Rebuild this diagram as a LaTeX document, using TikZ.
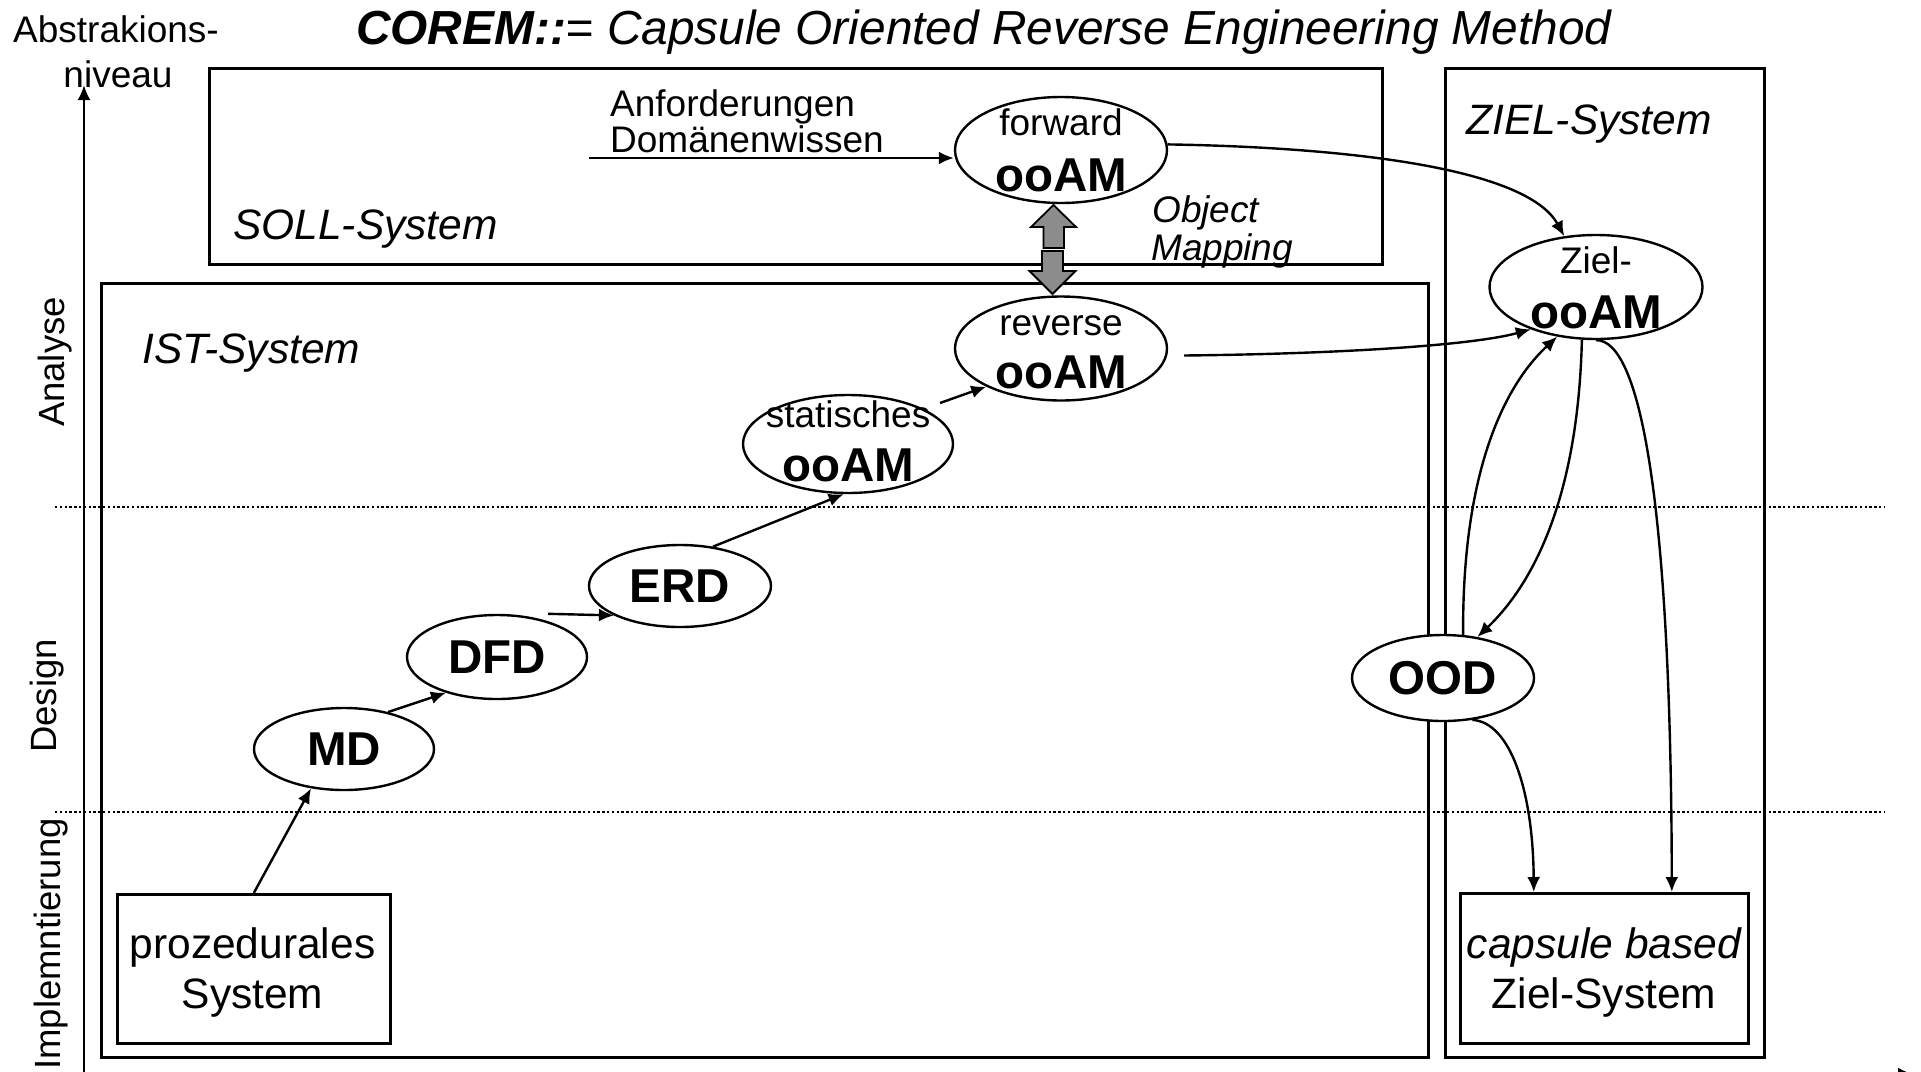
\documentclass[tikz,border=0pt]{standalone}
\usepackage{fontspec}
\setmainfont{Liberation Sans}
\usetikzlibrary{arrows.meta,shapes.geometric}
\begin{document}
\begin{tikzpicture}[x=1pt,y=-1pt,
  box/.style={draw, rectangle, line width=2.6pt, inner sep=0pt},
  ell/.style={draw, ellipse, line width=2.4pt, inner sep=0pt, fill=white},
  arr/.style={line width=2.4pt, -{Latex[length=15pt,width=13pt]}},
  small/.style={font=\fontsize{37}{40}\selectfont, inner sep=0pt},
  axlbl/.style={font=\fontsize{36.5}{40}\selectfont, inner sep=0pt, rotate=90},
  big/.style={font=\fontsize{47.5}{50}\selectfont\bfseries, inner sep=0pt},
  head/.style={font=\fontsize{42.5}{45}\selectfont\itshape, inner sep=0pt},
  boxtxt/.style={font=\fontsize{42.5}{45}\selectfont, inner sep=0pt},
  dotline/.style={line width=2.6pt, dash pattern=on 2.4pt off 2.4pt},
  blockarr/.style={draw, line width=1.8pt, fill=black!45, line join=miter}
]
\path[use as bounding box, clip] (0,0) rectangle (1921,1071);

% level separators
\draw[dotline] (55,507) -- (1884,507);
\draw[dotline] (55,812) -- (1884,812);

% axes
\coordinate (orig) at (84,1074);
\coordinate (ytop) at (84,85);
\coordinate (xend) at (1913,1074);
\draw[arr] (orig) -- (ytop);
\draw[arr] (orig) -- (xend);

% title and axis labels
\node[inner sep=0pt, anchor=base west, font=\fontsize{47.8}{50}\selectfont] (title) at (356,44)
  {{\bfseries\itshape COREM::}{\itshape= Capsule Oriented Reverse Engineering Method}};
\node[small, anchor=base] (abs1) at (116,42) {Abstrakions-};
\node[small, anchor=base] (abs2) at (118,87) {niveau};
\node[axlbl] (analyse) at (55.5,362) {Analyse};
\node[axlbl] (design) at (47.5,696) {Design};
\node[axlbl] (impl) at (51,944) {Implemntierung};

% system boxes
\node[box, anchor=north west, minimum width=1173pt, minimum height=196pt] (soll) at (208,67) {};
\node[box, anchor=north west, minimum width=1327pt, minimum height=774pt] (ist) at (100,282) {};
\node[box, anchor=north west, minimum width=319pt, minimum height=989pt] (ziels) at (1444,67) {};
\node[box, anchor=north west, minimum width=273pt, minimum height=149pt] (proz) at (116,893) {};
\node[box, anchor=north west, minimum width=288pt, minimum height=150pt] (caps) at (1459,892) {};

\node[head, anchor=base west] (sollt) at (233,239) {SOLL-System};
\node[head, anchor=base west] (istt) at (142,363) {IST-System};
\node[head, anchor=base west] (zielt) at (1466,134) {ZIEL-System};

\node[boxtxt, anchor=base] (proz1) at (252.5,958) {prozedurales};
\node[boxtxt, anchor=base] (proz2) at (252.5,1008) {System};
\node[boxtxt, anchor=base] (caps1) at (1604,958) {\itshape capsule based};
\node[boxtxt, anchor=base] (caps2) at (1604,1008) {Ziel-System};

% ellipses
\node[ell, minimum width=212pt, minimum height=106pt] (fwd) at (1061,150) {};
\node[ell, minimum width=212pt, minimum height=104pt] (rev) at (1061,348.5) {};
\node[ell, minimum width=210pt, minimum height=98pt] (stat) at (848,444) {};
\node[ell, minimum width=182pt, minimum height=82pt] (erd) at (680,586) {};
\node[ell, minimum width=180pt, minimum height=84pt] (dfd) at (497,657) {};
\node[ell, minimum width=180pt, minimum height=82pt] (md) at (344,749) {};
\node[ell, minimum width=213pt, minimum height=104pt] (ziel) at (1596,287) {};
\node[ell, minimum width=182pt, minimum height=86pt] (ood) at (1443,678) {};

\node[small, anchor=base] (fwdt) at ([yshift=15pt]fwd.center) {forward};
\node[big, anchor=base] (fwdo) at ([yshift=-41pt]fwd.center) {ooAM};
\node[small, anchor=base] (revt) at ([yshift=13.5pt]rev.center) {reverse};
\node[big, anchor=base] (revo) at ([yshift=-40pt]rev.center) {ooAM};
\node[small, anchor=base] (statt) at ([yshift=17pt]stat.center) {statisches};
\node[big, anchor=base] (stato) at ([yshift=-37pt]stat.center) {ooAM};
\node[small, anchor=base] (zielt1) at ([yshift=14pt]ziel.center) {Ziel-};
\node[big, anchor=base] (zielo) at ([yshift=-41pt]ziel.center) {ooAM};
\node[big] (erdt) at (erd) {ERD};
\node[big] (dfdt) at (dfd) {DFD};
\node[big] (mdt) at (md) {MD};
\node[big] (oodt) at (ood) {OOD};

% inputs
\node[small, anchor=base west] (anf1) at (610,116) {Anforderungen};
\node[small, anchor=base west] (anf2) at (610,152) {Domänenwissen};
\coordinate (anf) at (589,158);
\draw[arr] (anf) -- (anf -| fwd.west);

\node[small, anchor=base west] (om1) at (1152,222) {\itshape Object};
\node[small, anchor=base west] (om2) at (1151,260) {\itshape Mapping};

% object mapping block arrows
\path[blockarr] (1043.5,248) -- (1043.5,227) -- (1031,227) -- (1053.5,205) -- (1076,227) -- (1064,227) -- (1064,248) -- cycle;
\path[blockarr] (1042,251) -- (1063,251) -- (1063,271) -- (1075.5,271) -- (1052.5,294) -- (1029.5,271) -- (1042,271) -- cycle;

% reverse engineering chain
\draw[arr] (proz.north) -- (md.230);
\draw[arr] (md.40) -- (dfd.215);
\draw[arr] ([xshift=51pt]dfd.north) -- (erd.204);
\draw[arr] (erd.50) -- (stat.265);
\draw[arr] ([xshift=92pt,yshift=41pt]stat.center) -- (rev.207);

% to target system
\draw[arr] (fwd.3) .. controls (1330,147) and (1525,165) .. (ziel.122);
\draw[arr] ([xshift=16pt,yshift=-7pt]rev.east) .. controls (1330,354) and (1470,346) .. (ziel.213);
\draw[arr] (ood.65) .. controls (1462,470) and (1505,385) .. (ziel.232);
\draw[arr] (ziel.255) .. controls (1578,500) and (1532,585) .. (ood.50);
\draw[arr] (ziel.south) .. controls (1640,339) and (1671,500) .. ([xshift=67.5pt]caps.north);
\draw[arr] (ood.305) .. controls (1510,722) and (1533,790) .. ([xshift=-70.5pt]caps.north);
\end{tikzpicture}
\end{document}
